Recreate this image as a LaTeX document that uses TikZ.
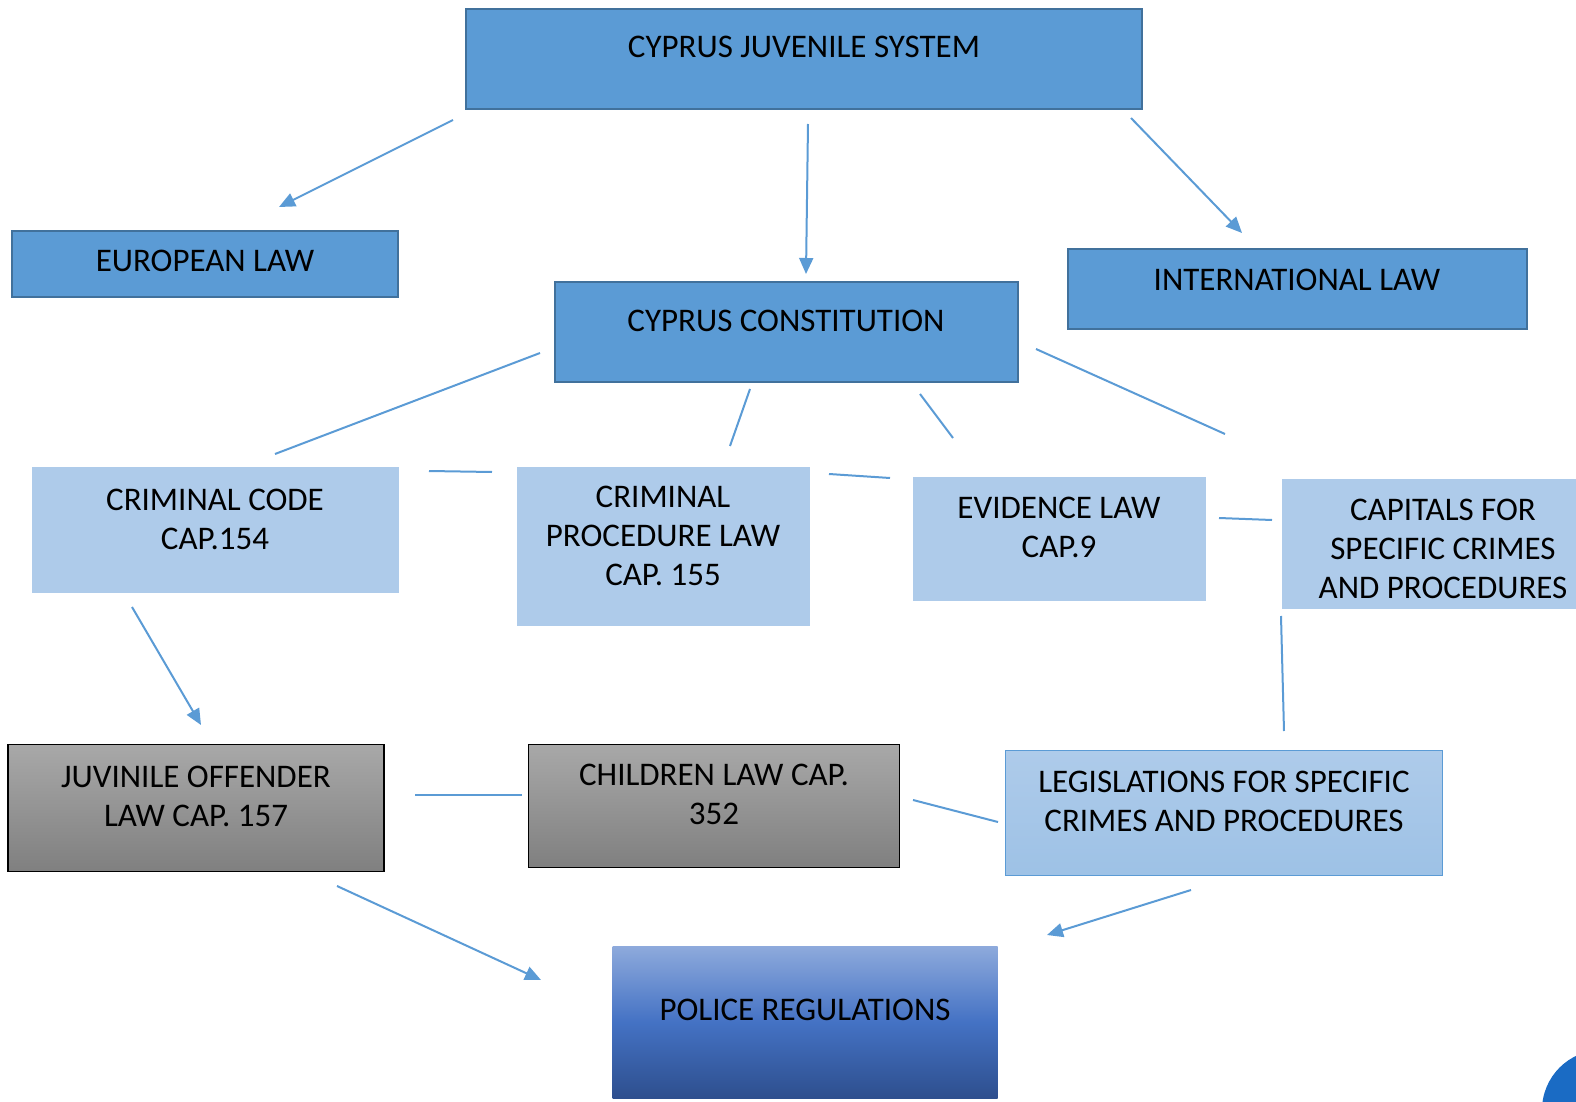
\documentclass[tikz,border=0pt]{standalone}
\usepackage{fontspec}
\setmainfont{Carlito}
\usetikzlibrary{arrows.meta}
\definecolor{boxblue}{HTML}{5B9BD5}
\definecolor{boxedge}{HTML}{41719C}
\definecolor{paleblue}{HTML}{AECBEA}
\definecolor{linkblue}{HTML}{5B9BD5}
\definecolor{policetop}{HTML}{8EAADC}
\definecolor{policemid}{HTML}{4472C4}
\definecolor{policebot}{HTML}{2E4F8E}
\definecolor{cornerblue}{HTML}{1A6BC4}
\begin{document}
\begin{tikzpicture}[x=.5pt,y=-.5pt,every label/.style={align=center,font=\fontsize{16.5}{19.5}\selectfont,text=black,inner sep=0pt},
	bluebox/.style={draw=boxedge,line width=1pt,fill=boxblue},
	palebox/.style={fill=paleblue},
	greybox/.style={draw=black,line width=.8pt,top color=black!34,bottom color=black!50},
	legbox/.style={draw=linkblue,line width=.8pt,top color=paleblue,bottom color=paleblue!80!linkblue},
	policebox/.style={top color=policetop,bottom color=policebot,middle color=policemid},
	link/.style={linkblue,line width=1pt},
	arr/.style={link,-{Triangle[length=8pt,width=7pt]}}]
		\useasboundingbox(0,0)rectangle(1576,1102);
		% boxes
		\node[bluebox,minimum width=338pt,minimum height=50pt,label={[yshift=6pt]center:CYPRUS JUVENILE SYSTEM}](CJS)at(804,59){};
		\node[bluebox,minimum width=193pt,minimum height=33pt,label={[yshift=1.5pt]center:EUROPEAN LAW}](EU)at(205,264){};
		\node[bluebox,minimum width=229.5pt,minimum height=40pt,label={[yshift=4.5pt]center:INTERNATIONAL LAW}](INT)at(1297,289){};
		\node[bluebox,minimum width=231.5pt,minimum height=50pt,label={[yshift=5.5pt]center:CYPRUS CONSTITUTION}](CON)at(786,332){};
		\node[palebox,minimum width=183.5pt,minimum height=63pt,label={[yshift=5.5pt]center:CRIMINAL CODE\\CAP.154}](CC)at(215,530){};
		\node[palebox,minimum width=146.5pt,minimum height=79.5pt,label={[yshift=5pt]center:CRIMINAL\\PROCEDURE LAW\\CAP. 155}](CPL)at(663,546){};
		\node[palebox,minimum width=146.5pt,minimum height=62pt,label={[yshift=6pt]center:EVIDENCE LAW\\CAP.9}](EVL)at(1059,539){};
		\node[palebox,minimum width=161pt,minimum height=65pt,label={[yshift=-2.5pt]center:CAPITALS FOR\\SPECIFIC CRIMES\\AND PROCEDURES}](CAP)at(1443,544){};
		\node[greybox,minimum width=188pt,minimum height=63.5pt,label={[yshift=6pt]center:JUVINILE OFFENDER\\LAW CAP. 157}](JOL)at(196,808){};
		\node[greybox,minimum width=185.5pt,minimum height=61.5pt,label={[yshift=6pt]center:CHILDREN LAW CAP.\\352}](CHL)at(714,806){};
		\node[legbox,minimum width=218.5pt,minimum height=62.5pt,label={[yshift=6pt]center:LEGISLATIONS FOR SPECIFIC\\CRIMES AND PROCEDURES}](LEG)at(1224,813){};
		\node[policebox,minimum width=192.5pt,minimum height=76pt,label={[yshift=6pt]center:POLICE REGULATIONS}](POL)at(805,1022){};
		% connector ends
		\coordinate(A1)at(453,120);\coordinate(B1)at(279,207);
		\coordinate(A2)at(808,124);\coordinate(B2)at(806,274);
		\coordinate(A3)at(1131,118);\coordinate(B3)at(1242,233);
		\coordinate(A4)at(132,607);\coordinate(B4)at(201,725);
		\coordinate(A5)at(337,886);\coordinate(B5)at(541,980);
		\coordinate(A6)at(1191,890);\coordinate(B6)at(1047,935);
		\coordinate(L1)at(540,353);\coordinate(M1)at(275,454);
		\coordinate(L2)at(750,389);\coordinate(M2)at(730,446);
		\coordinate(L3)at(920,394);\coordinate(M3)at(953,438);
		\coordinate(L4)at(1036,349);\coordinate(M4)at(1225,434);
		\coordinate(L5)at(429,471);\coordinate(M5)at(492,472);
		\coordinate(L6)at(829,474);\coordinate(M6)at(890,478);
		\coordinate(L7)at(1219,518);\coordinate(M7)at(1272,520);
		\coordinate(L8)at(1281,616);\coordinate(M8)at(1284,731);
		\coordinate(L9)at(415,795);\coordinate(M9)at(522,795);
		\coordinate(L10)at(913,800);\coordinate(M10)at(998,822);
		\foreach\i in{1,...,6}{\draw[arr](A\i)--(B\i);}
		\foreach\i in{1,...,10}{\draw[link](L\i)--(M\i);}
		% corner mark
		\fill[cornerblue](1602,1110)circle(30pt);
		\end{tikzpicture}
\end{document}
